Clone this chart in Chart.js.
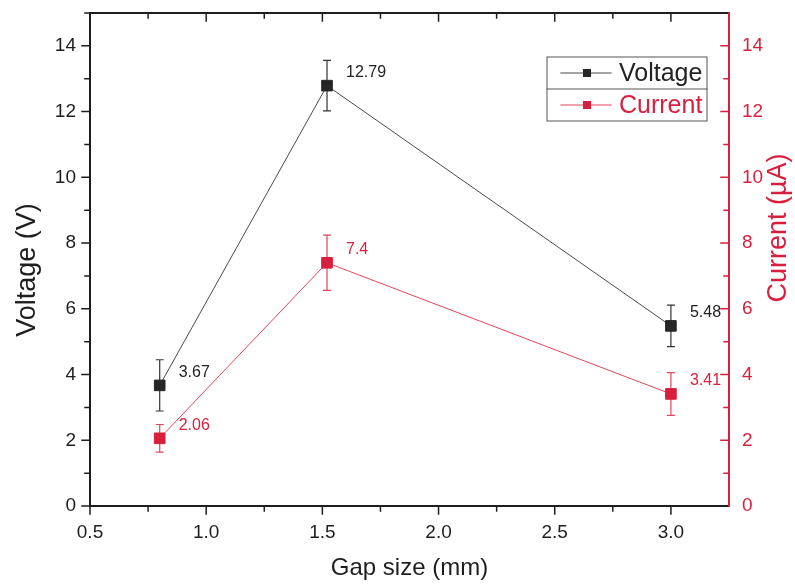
<!DOCTYPE html>
<html>
<head>
<meta charset="utf-8">
<script src="https://cdn.jsdelivr.net/npm/chart.js@4.4.1/dist/chart.umd.min.js"></script>
<style>
  html, body { margin: 0; padding: 0; background: #fff; }
  #wrap { width: 795px; height: 586px; }
</style>
</head>
<body>
<div id="wrap"><canvas id="chart"></canvas></div>
<script>
// gap size (mm) vs measured voltage / current
const gapSize = [0.8, 1.52, 3.0];
const voltage = [3.67, 12.79, 5.48];
const voltageErr = [0.78, 0.77, 0.63];
const current = [2.06, 7.4, 3.41];
const currentErr = [0.42, 0.84, 0.65];

const xTicks = [0.5, 1.0, 1.5, 2.0, 2.5, 3.0];
const xTickLabels = ["0.5", "1.0", "1.5", "2.0", "2.5", "3.0"];
const yTicks = [0, 2, 4, 6, 8, 10, 12, 14];
const yTickLabels = ["0", "2", "4", "6", "8", "10", "12", "14"];

const FONT = "'Liberation Sans', Arial, sans-serif";
const BLACK = "#1e1e1e";
const GREY_LINE = "#4a4a4a";
const RED = "#d81f3d";
const RED_LINE = "#e2455c";

Chart.defaults.font.family = FONT;

function toPoints(xs, ys) {
    let pts = [];
    for (let i = 0; i < xs.length; i++)
        pts.push({ x: xs[i], y: ys[i] });
    return pts;
}

// fixed axis thickness, and no extra room for the end labels
function fixWidth(w) {
    return (s) => {
        s.width = w;
        s.paddingTop = 0;
        s.paddingBottom = 0;
    };
}

// vertical error bars with caps, drawn under the markers
const errorBars = {
    id: "errorBars",
    beforeDatasetsDraw(chart) {
        const ctx = chart.ctx;
        chart.data.datasets.forEach((ds, i) => {
            const meta = chart.getDatasetMeta(i);
            const yScale = chart.scales[ds.yAxisID];
            ctx.save();
            ctx.strokeStyle = ds.errColor;
            ctx.lineWidth = 1.2;
            meta.data.forEach((pt, j) => {
                const v = ds.data[j].y;
                const e = ds.errors[j];
                const top = yScale.getPixelForValue(v + e);
                const bot = yScale.getPixelForValue(v - e);
                ctx.beginPath();
                ctx.moveTo(pt.x, top);
                ctx.lineTo(pt.x, bot);
                ctx.moveTo(pt.x - 4, top);
                ctx.lineTo(pt.x + 4, top);
                ctx.moveTo(pt.x - 4, bot);
                ctx.lineTo(pt.x + 4, bot);
                ctx.stroke();
            });
            ctx.restore();
        });
    }
};

// axis frame, tick marks, titles, value labels and the boxed legend
const frame = {
    id: "frame",
    afterDraw(chart) {
        const ctx = chart.ctx;
        const a = chart.chartArea;
        const x = chart.scales.x;
        const y = chart.scales.y;
        const y1 = chart.scales.y1;

        ctx.save();
        ctx.lineCap = "square";

        // ticks
        ctx.lineWidth = 1.5;
        ctx.strokeStyle = BLACK;
        ctx.beginPath();
        for (let v of xTicks) {
            const px = x.getPixelForValue(v);
            ctx.moveTo(px, a.bottom); ctx.lineTo(px, a.bottom + 8);
            ctx.moveTo(px, a.top); ctx.lineTo(px, a.top + 8);
            const m = v + 0.25;
            if (m < x.max) {
                const pm = x.getPixelForValue(m);
                ctx.moveTo(pm, a.bottom); ctx.lineTo(pm, a.bottom + 5);
                ctx.moveTo(pm, a.top); ctx.lineTo(pm, a.top + 5);
            }
        }
        for (let v of yTicks) {
            const py = y.getPixelForValue(v);
            ctx.moveTo(a.left, py); ctx.lineTo(a.left - 8, py);
            const pm = y.getPixelForValue(v + 1);
            ctx.moveTo(a.left, pm); ctx.lineTo(a.left - 5, pm);
        }
        ctx.stroke();

        ctx.strokeStyle = RED;
        ctx.beginPath();
        for (let v of yTicks) {
            const py = y1.getPixelForValue(v);
            ctx.moveTo(a.right, py); ctx.lineTo(a.right - 8, py);
            const pm = y1.getPixelForValue(v + 1);
            ctx.moveTo(a.right, pm); ctx.lineTo(a.right - 5, pm);
        }
        ctx.stroke();

        // axis lines
        ctx.lineWidth = 2;
        ctx.strokeStyle = BLACK;
        ctx.beginPath();
        ctx.moveTo(a.right, a.top); ctx.lineTo(a.left, a.top);
        ctx.lineTo(a.left, a.bottom); ctx.lineTo(a.right, a.bottom);
        ctx.stroke();
        ctx.strokeStyle = RED;
        ctx.beginPath();
        ctx.moveTo(a.right, a.top); ctx.lineTo(a.right, a.bottom);
        ctx.stroke();

        // axis titles
        ctx.textAlign = "center";
        ctx.textBaseline = "middle";
        ctx.fillStyle = BLACK;
        ctx.font = "24px " + FONT;
        ctx.fillText("Gap size (mm)", (a.left + a.right) / 2, 568);

        ctx.font = "27px " + FONT;
        ctx.save();
        ctx.translate(28, 270);
        ctx.rotate(-Math.PI / 2);
        ctx.fillText("Voltage (V)", 0, 0);
        ctx.restore();

        ctx.fillStyle = RED;
        ctx.save();
        ctx.translate(779, 228);
        ctx.rotate(-Math.PI / 2);
        ctx.fillText("Current (\u00b5A)", 0, 0);
        ctx.restore();

        // value labels next to each point
        ctx.font = "16px " + FONT;
        ctx.textAlign = "left";
        chart.data.datasets.forEach((ds, i) => {
            const meta = chart.getDatasetMeta(i);
            ctx.fillStyle = ds.labelColor;
            meta.data.forEach((pt, j) => {
                ctx.fillText(String(ds.data[j].y), pt.x + 19, pt.y - 13);
            });
        });

        // legend box
        const lx = 547, ly = 57, lw = 160, rowH = 32;
        ctx.lineWidth = 1;
        ctx.strokeStyle = "#555";
        ctx.strokeRect(lx, ly, lw, rowH * 2);
        ctx.beginPath();
        ctx.moveTo(lx, ly + rowH); ctx.lineTo(lx + lw, ly + rowH);
        ctx.stroke();

        ctx.font = "25px " + FONT;
        chart.data.datasets.forEach((ds, i) => {
            const cy = ly + rowH * i + rowH / 2;
            ctx.strokeStyle = ds.borderColor;
            ctx.lineWidth = 1.2;
            ctx.beginPath();
            ctx.moveTo(lx + 14, cy); ctx.lineTo(lx + 64, cy);
            ctx.stroke();
            ctx.fillStyle = ds.pointBackgroundColor;
            ctx.fillRect(lx + 36, cy - 4, 8, 8);
            ctx.fillStyle = ds.labelColor;
            ctx.fillText(ds.label, lx + 72, cy + 1);
        });

        ctx.restore();
    }
};

const ctx = document.getElementById("chart");

new Chart(ctx, {
    type: "line",
    data: {
        datasets: [{
            label: "Voltage",
            data: toPoints(gapSize, voltage),
            errors: voltageErr,
            errColor: "#333",
            labelColor: "#222",
            yAxisID: "y",
            borderColor: GREY_LINE,
            borderWidth: 1,
            pointStyle: "rect",
            pointRadius: 7.5,
            pointBackgroundColor: "#262626",
            pointBorderColor: "#262626",
            pointBorderWidth: 1
        }, {
            label: "Current",
            data: toPoints(gapSize, current),
            errors: currentErr,
            errColor: RED_LINE,
            labelColor: RED,
            yAxisID: "y1",
            borderColor: RED_LINE,
            borderWidth: 1,
            pointStyle: "rect",
            pointRadius: 7.5,
            pointBackgroundColor: RED,
            pointBorderColor: RED,
            pointBorderWidth: 1
        }]
    },
    options: {
        responsive: true,
        maintainAspectRatio: false,
        animation: false,
        layout: { padding: { top: 13, left: 0, right: 0, bottom: 0 } },
        plugins: {
            legend: { display: false },
            tooltip: { enabled: false }
        },
        scales: {
            x: {
                type: "linear",
                min: 0.5,
                max: 3.25,
                grid: { display: false, drawTicks: false },
                border: { display: false },
                afterBuildTicks: (s) => { s.ticks = xTicks.map(v => ({ value: v })); },
                afterFit: (s) => { s.height = 80; },
                ticks: {
                    color: BLACK,
                    padding: 15,
                    maxRotation: 0,
                    font: { size: 19 },
                    callback: (v, i) => xTickLabels[i]
                }
            },
            y: {
                position: "left",
                min: 0,
                max: 15,
                grid: { display: false, drawTicks: false },
                border: { display: false },
                afterBuildTicks: (s) => { s.ticks = yTicks.map(v => ({ value: v })); },
                afterFit: fixWidth(90),
                ticks: {
                    color: BLACK,
                    padding: 14,
                    font: { size: 19 },
                    callback: (v, i) => yTickLabels[i]
                }
            },
            y1: {
                position: "right",
                min: 0,
                max: 15,
                grid: { display: false, drawTicks: false },
                border: { display: false },
                afterBuildTicks: (s) => { s.ticks = yTicks.map(v => ({ value: v })); },
                afterFit: fixWidth(66),
                ticks: {
                    color: RED,
                    padding: 13,
                    font: { size: 19 },
                    callback: (v, i) => yTickLabels[i]
                }
            }
        }
    },
    plugins: [errorBars, frame]
});
</script>
</body>
</html>
